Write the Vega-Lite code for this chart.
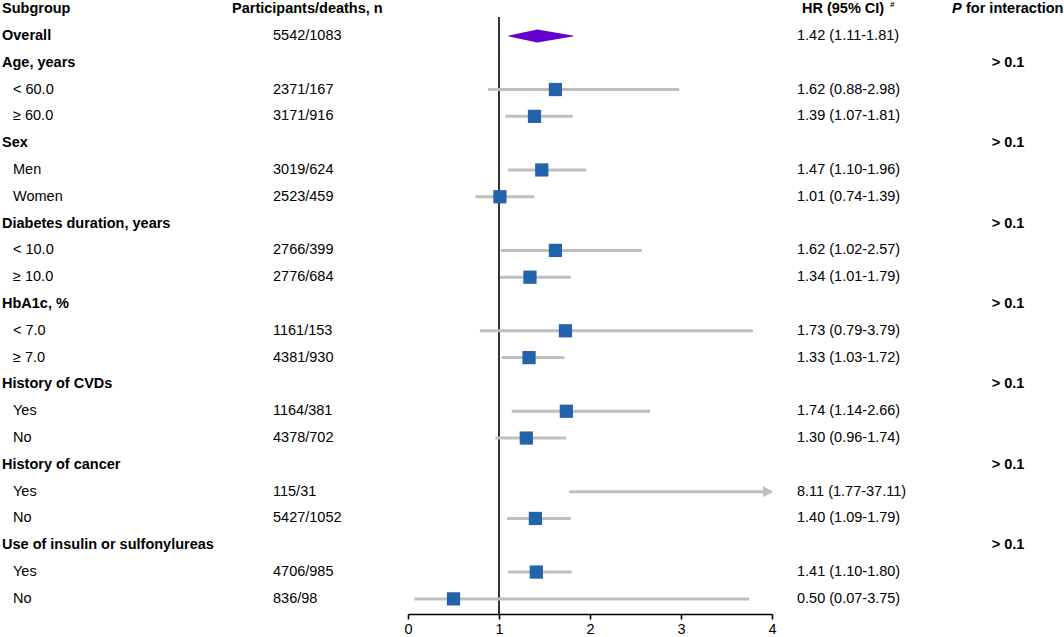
{
  "$schema": "https://vega.github.io/schema/vega-lite/v6.json",
  "background": "white",
  "padding": 0,
  "spacing": 0,
  "bounds": "flush",
  "config": {
    "font": "Liberation Sans",
    "view": {"stroke": null},
    "text": {"fontSize": 14.5, "color": "#000000"}
  },
  "datasets": {
    "rows": [
      {"key": "head", "kind": "head", "label": "Subgroup", "n": "Participants/deaths, n", "ci": "HR (95% CI)", "note": "#", "pvar": "P", "p": "for interaction"},
      {"key": "overall", "kind": "overall", "label": "Overall", "n": "5542/1083", "hr": 1.42, "lo": 1.11, "hi": 1.81, "ci": "1.42 (1.11-1.81)"},
      {"key": "age", "kind": "group", "label": "Age, years", "p": "> 0.1"},
      {"key": "age_lt60", "kind": "item", "label": "< 60.0", "n": "2371/167", "hr": 1.62, "lo": 0.88, "hi": 2.98, "ci": "1.62 (0.88-2.98)"},
      {"key": "age_ge60", "kind": "item", "label": "≥ 60.0", "n": "3171/916", "hr": 1.39, "lo": 1.07, "hi": 1.81, "ci": "1.39 (1.07-1.81)"},
      {"key": "sex", "kind": "group", "label": "Sex", "p": "> 0.1"},
      {"key": "men", "kind": "item", "label": "Men", "n": "3019/624", "hr": 1.47, "lo": 1.10, "hi": 1.96, "ci": "1.47 (1.10-1.96)"},
      {"key": "women", "kind": "item", "label": "Women", "n": "2523/459", "hr": 1.01, "lo": 0.74, "hi": 1.39, "ci": "1.01 (0.74-1.39)"},
      {"key": "dur", "kind": "group", "label": "Diabetes duration, years", "p": "> 0.1"},
      {"key": "dur_lt10", "kind": "item", "label": "< 10.0", "n": "2766/399", "hr": 1.62, "lo": 1.02, "hi": 2.57, "ci": "1.62 (1.02-2.57)"},
      {"key": "dur_ge10", "kind": "item", "label": "≥ 10.0", "n": "2776/684", "hr": 1.34, "lo": 1.01, "hi": 1.79, "ci": "1.34 (1.01-1.79)"},
      {"key": "hba1c", "kind": "group", "label": "HbA1c, %", "p": "> 0.1"},
      {"key": "hba1c_lt7", "kind": "item", "label": "< 7.0", "n": "1161/153", "hr": 1.73, "lo": 0.79, "hi": 3.79, "ci": "1.73 (0.79-3.79)"},
      {"key": "hba1c_ge7", "kind": "item", "label": "≥ 7.0", "n": "4381/930", "hr": 1.33, "lo": 1.03, "hi": 1.72, "ci": "1.33 (1.03-1.72)"},
      {"key": "cvd", "kind": "group", "label": "History of CVDs", "p": "> 0.1"},
      {"key": "cvd_yes", "kind": "item", "label": "Yes", "n": "1164/381", "hr": 1.74, "lo": 1.14, "hi": 2.66, "ci": "1.74 (1.14-2.66)"},
      {"key": "cvd_no", "kind": "item", "label": "No", "n": "4378/702", "hr": 1.30, "lo": 0.96, "hi": 1.74, "ci": "1.30 (0.96-1.74)"},
      {"key": "cancer", "kind": "group", "label": "History of cancer", "p": "> 0.1"},
      {"key": "cancer_yes", "kind": "item", "label": "Yes", "n": "115/31", "hr": 8.11, "lo": 1.77, "hi": 37.11, "ci": "8.11 (1.77-37.11)"},
      {"key": "cancer_no", "kind": "item", "label": "No", "n": "5427/1052", "hr": 1.40, "lo": 1.09, "hi": 1.79, "ci": "1.40 (1.09-1.79)"},
      {"key": "insulin", "kind": "group", "label": "Use of insulin or sulfonylureas", "p": "> 0.1"},
      {"key": "insulin_yes", "kind": "item", "label": "Yes", "n": "4706/985", "hr": 1.41, "lo": 1.10, "hi": 1.80, "ci": "1.41 (1.10-1.80)"},
      {"key": "insulin_no", "kind": "item", "label": "No", "n": "836/98", "hr": 0.50, "lo": 0.07, "hi": 3.75, "ci": "0.50 (0.07-3.75)"}
    ]
  },
  "data": {"name": "rows"},
  "hconcat": [
    {
      "width": 232,
      "height": 608,
      "encoding": {
        "y": {"field": "key", "type": "ordinal", "axis": null,
              "scale": {"type": "point", "padding": 0.34, "domain": ["head","overall","age","age_lt60","age_ge60","sex","men","women","dur","dur_lt10","dur_ge10","hba1c","hba1c_lt7","hba1c_ge7","cvd","cvd_yes","cvd_no","cancer","cancer_yes","cancer_no","insulin","insulin_yes","insulin_no"]}}
      },
      "layer": [
        {
          "transform": [{"filter": "datum.kind != 'item'"}],
          "mark": {"type": "text", "align": "left", "x": 0, "dx": 2, "fontWeight": "bold"},
          "encoding": {"text": {"field": "label"}}
        },
        {
          "transform": [{"filter": "datum.kind == 'item'"}],
          "mark": {"type": "text", "align": "left", "x": 0, "dx": 13},
          "encoding": {"text": {"field": "label"}}
        }
      ]
    },
    {
      "width": 176,
      "height": 608,
      "encoding": {
        "y": {"field": "key", "type": "ordinal", "axis": null,
              "scale": {"type": "point", "padding": 0.34, "domain": ["head","overall","age","age_lt60","age_ge60","sex","men","women","dur","dur_lt10","dur_ge10","hba1c","hba1c_lt7","hba1c_ge7","cvd","cvd_yes","cvd_no","cancer","cancer_yes","cancer_no","insulin","insulin_yes","insulin_no"]}}
      },
      "layer": [
        {
          "transform": [{"filter": "datum.kind == 'head'"}],
          "mark": {"type": "text", "align": "left", "x": 0, "fontWeight": "bold"},
          "encoding": {"text": {"field": "n"}}
        },
        {
          "transform": [{"filter": "datum.kind == 'overall' || datum.kind == 'item'"}],
          "mark": {"type": "text", "align": "left", "x": 0, "dx": 41},
          "encoding": {"text": {"field": "n"}}
        }
      ]
    },
    {
      "width": 364,
      "height": 608,
      "layer": [
        {
          "data": {"values": [{}]},
          "mark": {"type": "rule", "color": "#000000", "strokeWidth": 1.6, "yOffset": 8, "y2Offset": 15},
          "encoding": {
            "x": {"datum": 1, "type": "quantitative",
                  "scale": {"domain": [0, 4], "nice": false, "zero": false},
                  "axis": {"values": [0, 1, 2, 3, 4], "format": "d", "title": null, "grid": false, "offset": 6,
                           "domainColor": "#000000", "domainWidth": 1.6, "tickColor": "#000000", "tickWidth": 1.6, "tickSize": 5,
                           "labelColor": "#000000", "labelFontSize": 14.5, "labelPadding": 3, "labelFlush": false}},
            "y": {"datum": "head", "type": "ordinal", "axis": null,
                  "scale": {"type": "point", "padding": 0.34, "domain": ["head","overall","age","age_lt60","age_ge60","sex","men","women","dur","dur_lt10","dur_ge10","hba1c","hba1c_lt7","hba1c_ge7","cvd","cvd_yes","cvd_no","cancer","cancer_yes","cancer_no","insulin","insulin_yes","insulin_no"]}},
            "y2": {"datum": "insulin_no"}
          }
        },
        {
          "transform": [{"filter": "datum.kind == 'item'"}],
          "mark": {"type": "rule", "color": "#BFBFBF", "strokeWidth": 3, "clip": true},
          "encoding": {
            "x": {"field": "lo", "type": "quantitative"},
            "x2": {"field": "hi"},
            "y": {"field": "key", "type": "ordinal"}
          }
        },
        {
          "transform": [{"filter": "datum.hi > 4"}],
          "mark": {"type": "point", "shape": "triangle-right", "filled": true, "opacity": 1, "color": "#BFBFBF", "size": 130, "xOffset": -4},
          "encoding": {
            "x": {"datum": 4, "type": "quantitative"},
            "y": {"field": "key", "type": "ordinal"}
          }
        },
        {
          "transform": [{"filter": "datum.kind == 'item'"}],
          "mark": {"type": "point", "shape": "square", "filled": true, "opacity": 1, "color": "#2462AA", "size": 175, "clip": true},
          "encoding": {
            "x": {"field": "hr", "type": "quantitative"},
            "y": {"field": "key", "type": "ordinal"}
          }
        },
        {
          "transform": [
            {"filter": "datum.kind == 'overall'"},
            {"fold": ["lo", "hr", "hi"], "as": ["part", "v"]}
          ],
          "mark": {"type": "trail", "color": "#6600CC"},
          "encoding": {
            "x": {"field": "v", "type": "quantitative"},
            "y": {"field": "key", "type": "ordinal"},
            "size": {"condition": {"test": "datum.part == 'hr'", "value": 13}, "value": 0}
          }
        }
      ]
    },
    {
      "width": 180,
      "height": 608,
      "encoding": {
        "y": {"field": "key", "type": "ordinal", "axis": null,
              "scale": {"type": "point", "padding": 0.34, "domain": ["head","overall","age","age_lt60","age_ge60","sex","men","women","dur","dur_lt10","dur_ge10","hba1c","hba1c_lt7","hba1c_ge7","cvd","cvd_yes","cvd_no","cancer","cancer_yes","cancer_no","insulin","insulin_yes","insulin_no"]}}
      },
      "layer": [
        {
          "transform": [{"filter": "datum.kind == 'head'"}],
          "mark": {"type": "text", "align": "left", "x": 0, "dx": 30, "fontWeight": "bold"},
          "encoding": {"text": {"field": "ci"}}
        },
        {
          "transform": [{"filter": "datum.kind == 'head'"}],
          "mark": {"type": "text", "align": "left", "x": 0, "dx": 118, "dy": -4, "fontSize": 8, "fontWeight": "bold", "fontStyle": "italic"},
          "encoding": {"text": {"field": "note"}}
        },
        {
          "transform": [{"filter": "datum.kind == 'overall' || datum.kind == 'item'"}],
          "mark": {"type": "text", "align": "left", "x": 0, "dx": 25},
          "encoding": {"text": {"field": "ci"}}
        }
      ]
    },
    {
      "width": 112,
      "height": 608,
      "encoding": {
        "y": {"field": "key", "type": "ordinal", "axis": null,
              "scale": {"type": "point", "padding": 0.34, "domain": ["head","overall","age","age_lt60","age_ge60","sex","men","women","dur","dur_lt10","dur_ge10","hba1c","hba1c_lt7","hba1c_ge7","cvd","cvd_yes","cvd_no","cancer","cancer_yes","cancer_no","insulin","insulin_yes","insulin_no"]}}
      },
      "layer": [
        {
          "transform": [{"filter": "datum.kind == 'head'"}],
          "mark": {"type": "text", "align": "left", "x": 0, "fontWeight": "bold", "fontStyle": "italic"},
          "encoding": {"text": {"field": "pvar"}}
        },
        {
          "transform": [{"filter": "datum.kind == 'head'"}],
          "mark": {"type": "text", "align": "left", "x": 0, "dx": 14, "fontWeight": "bold"},
          "encoding": {"text": {"field": "p"}}
        },
        {
          "transform": [{"filter": "datum.kind == 'group'"}],
          "mark": {"type": "text", "align": "center", "fontWeight": "bold"},
          "encoding": {"text": {"field": "p"}}
        }
      ]
    }
  ]
}
